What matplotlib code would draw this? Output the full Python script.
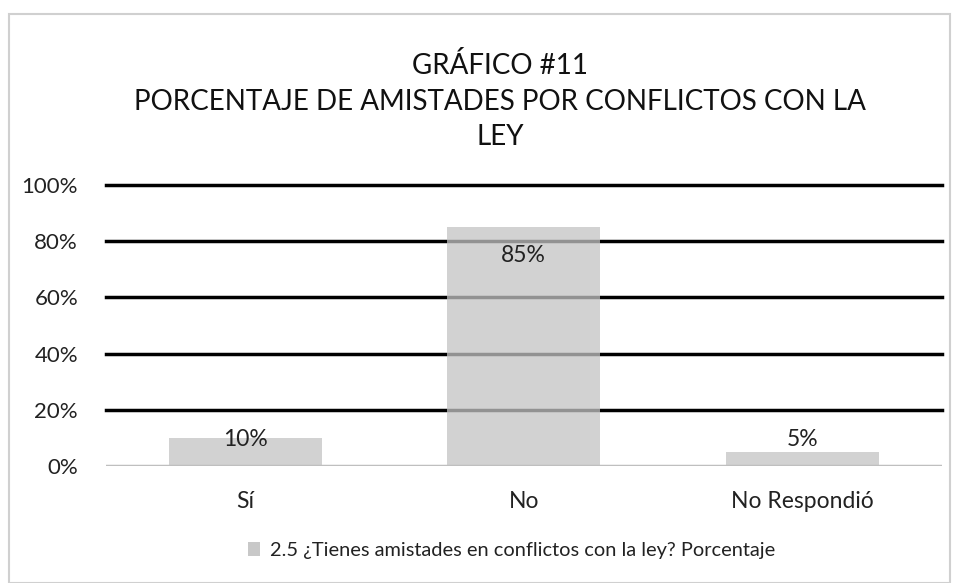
import matplotlib.pyplot as plt
from matplotlib.patches import Rectangle, Patch
from matplotlib.ticker import PercentFormatter

categories = ['Sí', 'No', 'No Respondió']
values = [0.10, 0.85, 0.05]
labels = ['10%', '85%', '5%']
series_name = '2.5 ¿Tienes amistades en conflictos con la ley? Porcentaje'
title = 'GRÁFICO #11\nPORCENTAJE DE AMISTADES POR CONFLICTOS CON LA\nLEY'

plt.rcParams['font.family'] = ['Lato', 'DejaVu Sans']

fig = plt.figure(figsize=(9.54, 5.83), dpi=100)

# outer chart border
fig.patches.append(Rectangle((9 / 954, 0), 941 / 954, 569 / 583, transform=fig.transFigure,
                             fill=False, edgecolor='#d0d0d0', linewidth=1.5))

ax = fig.add_axes([0.111, 0.2007, 0.876, 0.482])
x = range(len(categories))

# gridlines (drawn under the semi-transparent bars)
for g in [0.2, 0.4, 0.6, 0.8, 1.0]:
    ax.axhline(g, color='black', linewidth=2.5, zorder=1, clip_on=False)

ax.bar(x, values, width=0.55, color='#c4c4c4', alpha=0.75, zorder=2)
ax.axhline(0, color='#bfbfbf', linewidth=2.5, zorder=3)

for i, (v, lab) in enumerate(zip(values, labels)):
    ax.text(i, max(v - 0.10, 0.093), lab, ha='center', va='center', fontsize=16.5,
            color='#222222', zorder=4)

ax.set_xlim(-0.5, 2.5)
ax.set_ylim(0, 1)
ax.set_yticks([0, 0.2, 0.4, 0.6, 0.8, 1.0])
ax.yaxis.set_major_formatter(PercentFormatter(1.0, decimals=0))
ax.set_xticks(list(x))
ax.set_xticklabels(categories)
ax.tick_params(axis='y', length=0, labelsize=16, pad=20, labelcolor='#222222')
ax.tick_params(axis='x', length=0, labelsize=16.5, pad=18, labelcolor='#222222')
for s in ax.spines.values():
    s.set_visible(False)

fig.text(0.524, 0.826, title, ha='center', va='center', fontsize=20, linespacing=1.45,
         color='#111111')

fig.legend(handles=[Patch(facecolor='#c8c8c8', edgecolor='none')], labels=[series_name],
           loc='center', bbox_to_anchor=(0.536, 0.055), frameon=False, fontsize=14.4,
           handlelength=0.6, handleheight=0.7, handletextpad=0.5, labelcolor='#222222')

fig.savefig('out.png', dpi=100)
